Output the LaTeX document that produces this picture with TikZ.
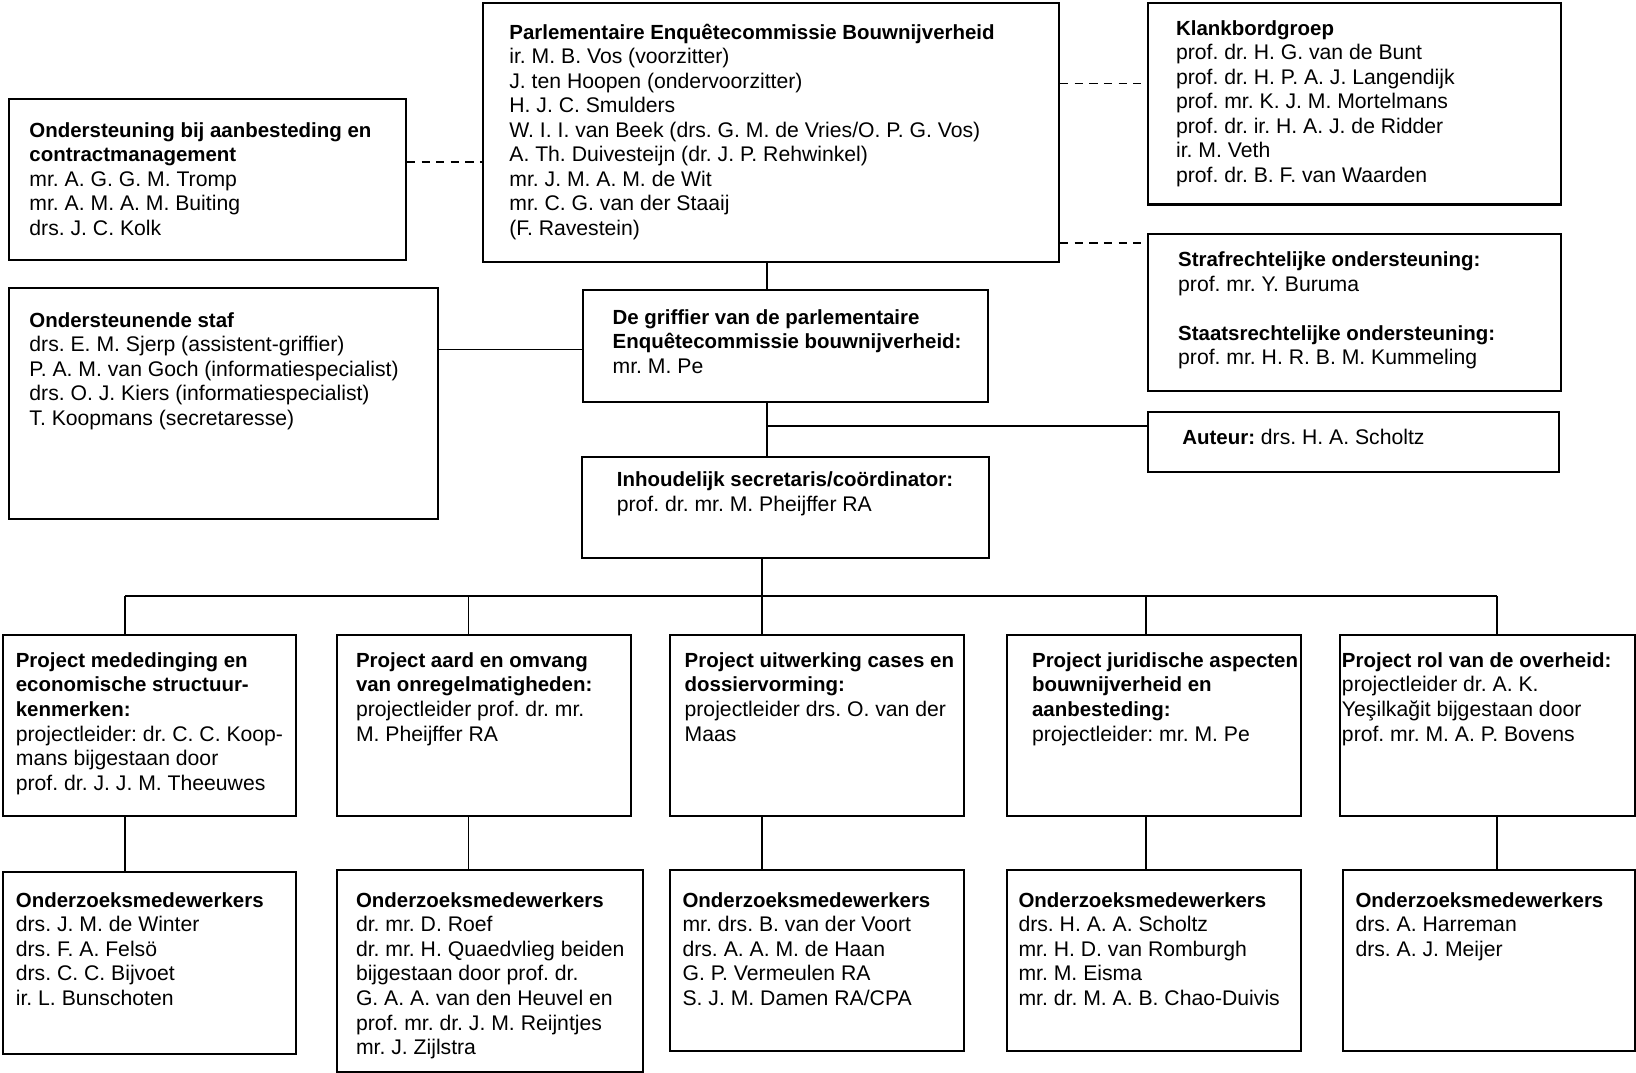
\documentclass[tikz,border=0pt]{standalone}
\usepackage{fontspec}
\setmainfont{Liberation Sans}
\newcommand\sx{\rule{0pt}{17.5pt}}
\newcommand\bt[1]{{\fontsize{19.6}{23.5}\selectfont\bfseries #1}}
\tikzset{
 box/.style={draw, line width=2pt, anchor=north west, inner sep=0pt},
 txt/.style={anchor=north west, inner sep=0pt, align=left, font=\fontsize{20.3}{23.5}\selectfont\frenchspacing},
 conn/.style={line width=1.7pt},
 dashline/.style={line width=1.8pt, dash pattern=on 8pt off 6pt},
}
\begin{document}
\begin{tikzpicture}[x=1pt,y=1pt]
\useasboundingbox (0,0) rectangle (1568,-1028);
% boxes
\node[box, minimum width=552, minimum height=248] (pe) at (462,-2) {};
\node[box, minimum width=380, minimum height=154] (oa) at (8,-94) {};
\node[box, minimum width=396, minimum height=193] (kb) at (1099,-2) {};
\node[box, minimum width=396, minimum height=151] (sr) at (1099,-223) {};
\node[box, minimum width=411, minimum height=221] (os) at (8,-275) {};
\node[box, minimum width=388, minimum height=107] (gr) at (558,-277) {};
\node[box, minimum width=394, minimum height=57] (au) at (1099,-394) {};
\node[box, minimum width=390, minimum height=97] (is) at (557,-437) {};
\node[box, minimum width=281, minimum height=173] (p1) at (2,-608) {};
\node[box, minimum width=282, minimum height=173] (p2) at (322,-608) {};
\node[box, minimum width=282, minimum height=173] (p3) at (641,-608) {};
\node[box, minimum width=282, minimum height=173] (p4) at (964,-608) {};
\node[box, minimum width=283, minimum height=173] (p5) at (1283,-608) {};
\node[box, minimum width=281, minimum height=174] (o1) at (2,-835) {};
\node[box, minimum width=293, minimum height=193] (o2) at (322,-833) {};
\node[box, minimum width=282, minimum height=173] (o3) at (641,-833) {};
\node[box, minimum width=282, minimum height=173] (o4) at (964,-833) {};
\node[box, minimum width=280, minimum height=173] (o5) at (1286,-833) {};
% texts
\node[txt] (tpe) at (488,-20) {\sx\bt{Parlementaire Enquêtecommissie Bouwnijverheid}\\
ir. M. B. Vos (voorzitter)\\
J. ten Hoopen (ondervoorzitter)\\
H. J. C. Smulders\\
W. I. I. van Beek (drs. G. M. de Vries/O. P. G. Vos)\\
A. Th. Duivesteijn (dr. J. P. Rehwinkel)\\
mr. J. M. A. M. de Wit\\
mr. C. G. van der Staaij\\
(F. Ravestein)};
\node[txt] (toa) at (28,-114) {\sx\bt{Ondersteuning bij aanbesteding en}\\
\bt{contractmanagement}\\
mr. A. G. G. M. Tromp\\
mr. A. M. A. M. Buiting\\
drs. J. C. Kolk};
\node[txt] (tkb) at (1127,-16) {\sx\bt{Klankbordgroep}\\
prof. dr. H. G. van de Bunt\\
prof. dr. H. P. A. J. Langendijk\\
prof. mr. K. J. M. Mortelmans\\
prof. dr. ir. H. A. J. de Ridder\\
ir. M. Veth\\
prof. dr. B. F. van Waarden};
\node[txt] (tsr) at (1129,-238) {\sx\bt{Strafrechtelijke ondersteuning:}\\
prof. mr. Y. Buruma\\[23.5pt]
\bt{Staatsrechtelijke ondersteuning:}\\
prof. mr. H. R. B. M. Kummeling};
\node[txt] (tos) at (28,-296) {\sx\bt{Ondersteunende staf}\\
drs. E. M. Sjerp (assistent-griffier)\\
P. A. M. van Goch (informatiespecialist)\\
drs. O. J. Kiers (informatiespecialist)\\
T. Koopmans (secretaresse)};
\node[txt] (tgr) at (587,-293) {\sx\bt{De griffier van de parlementaire}\\
\bt{Enquêtecommissie bouwnijverheid:}\\
mr. M. Pe};
\node[txt] (tau) at (1133,-408) {\sx\bt{Auteur:} drs. H. A. Scholtz};
\node[txt] (tis) at (591,-449) {\sx\bt{Inhoudelijk secretaris/coördinator:}\\
prof. dr. mr. M. Pheijffer RA};
\node[txt] (tp1) at (15,-622) {\sx\bt{Project mededinging en}\\
\bt{economische structuur-}\\
\bt{kenmerken:}\\
projectleider: dr. C. C. Koop-\\
mans bijgestaan door\\
prof. dr. J. J. M. Theeuwes};
\node[txt] (tp2) at (341,-622) {\sx\bt{Project aard en omvang}\\
\bt{van onregelmatigheden:}\\
projectleider prof. dr. mr.\\
M. Pheijffer RA};
\node[txt] (tp3) at (656,-622) {\sx\bt{Project uitwerking cases en}\\
\bt{dossiervorming:}\\
projectleider drs. O. van der\\
Maas};
\node[txt] (tp4) at (989,-622) {\sx\bt{Project juridische aspecten}\\
\bt{bouwnijverheid en}\\
\bt{aanbesteding:}\\
projectleider: mr. M. Pe};
\node[txt] (tp5) at (1286,-622) {\sx\bt{Project rol van de overheid:}\\
projectleider dr. A. K.\\
Yeşilkağit bijgestaan door\\
prof. mr. M. A. P. Bovens};
\node[txt] (to1) at (15,-852) {\sx\bt{Onderzoeksmedewerkers}\\
drs. J. M. de Winter\\
drs. F. A. Felsö\\
drs. C. C. Bijvoet\\
ir. L. Bunschoten};
\node[txt] (to2) at (341,-852) {\sx\bt{Onderzoeksmedewerkers}\\
dr. mr. D. Roef\\
dr. mr. H. Quaedvlieg beiden\\
bijgestaan door prof. dr.\\
G. A. A. van den Heuvel en\\
prof. mr. dr. J. M. Reijntjes\\
mr. J. Zijlstra};
\node[txt] (to3) at (654,-852) {\sx\bt{Onderzoeksmedewerkers}\\
mr. drs. B. van der Voort\\
drs. A. A. M. de Haan\\
G. P. Vermeulen RA\\
S. J. M. Damen RA/CPA};
\node[txt] (to4) at (976,-852) {\sx\bt{Onderzoeksmedewerkers}\\
drs. H. A. A. Scholtz\\
mr. H. D. van Romburgh\\
mr. M. Eisma\\
mr. dr. M. A. B. Chao-Duivis};
\node[txt] (to5) at (1299,-852) {\sx\bt{Onderzoeksmedewerkers}\\
drs. A. Harreman\\
drs. A. J. Meijer};
% helper coordinates
\coordinate (xa) at (735,0);
\coordinate (xb) at (730,0);
\coordinate (k1) at (120,0);
\coordinate (k2) at (449,0);
\coordinate (k3) at (730,0);
\coordinate (k4) at (1098,0);
\coordinate (k5) at (1435,0);
\coordinate (yoa) at (0,-155);
\coordinate (ykb) at (0,-80);
\coordinate (ysr) at (0,-233);
\coordinate (yos) at (0,-335);
\coordinate (yau) at (0,-408);
\coordinate (bus) at (0,-571);
% connectors
\draw[dashline] (yoa -| oa.east) -- (yoa -| pe.west);
\draw[dashline] (ykb -| pe.east) -- (ykb -| kb.west);
\draw[dashline] (ysr -| pe.east) -- (ysr -| sr.west);
\draw[conn] (xa |- pe.south) -- (xa |- gr.north);
\draw[conn] (yos -| os.east) -- (yos -| gr.west);
\draw[conn] (xa |- gr.south) -- (xa |- is.north);
\draw[conn] (yau -| xa) -- (yau -| au.west);
\draw[conn] (xb |- is.south) -- (xb |- bus);
\draw[conn] (bus -| k1) -- (bus -| k5);
\foreach \k/\p/\o in {k1/p1/o1,k2/p2/o2,k3/p3/o3,k4/p4/o4,k5/p5/o5}{
  \draw[conn] (\k |- bus) -- (\k |- \p.north);
  \draw[conn] (\k |- \p.south) -- (\k |- \o.north);
}
\end{tikzpicture}
\end{document}
